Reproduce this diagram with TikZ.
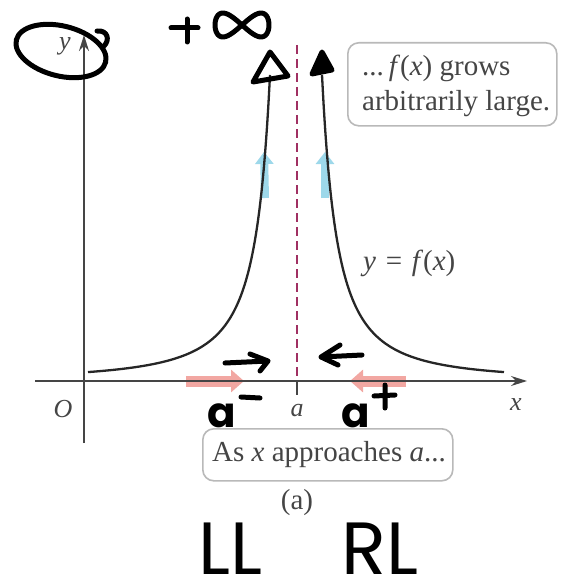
\documentclass[tikz,border=0pt]{standalone}
\usepackage{fontspec}
\setmainfont{Liberation Serif}
\newfontfamily\hand{Poppins}
\usetikzlibrary{arrows.meta,shapes.geometric}
\definecolor{txt}{HTML}{454545}
\definecolor{asym}{HTML}{A03062}
\definecolor{redarr}{HTML}{F2A7A2}
\definecolor{cyanarr}{HTML}{9DD8EA}
\begin{document}
\begin{tikzpicture}[x=1pt,y=-1pt,
  lbl/.style={text=txt,font=\fontsize{26}{30}\selectfont,inner sep=0pt},
  big/.style={text=txt,font=\fontsize{29}{35}\selectfont,inner sep=0pt},
  hwa/.style={font=\hand\bfseries\fontsize{42}{42}\selectfont,inner sep=0pt,anchor=base,text depth=0pt},
  hwl/.style={font=\hand\fontsize{74}{74}\selectfont,inner sep=0pt,anchor=base,text depth=0pt},
  ink/.style={line width=5pt,line cap=round,line join=round,black},
  axisline/.style={draw=txt,line width=1.3pt,-{Stealth[length=16pt,width=10pt]}},
  curve/.style={line width=2.3pt,black!85},
  note/.style={draw=gray!55,line width=1.6pt,rounded corners=11pt,fill=white,inner sep=0pt},
  fatred/.style={redarr,line width=11pt,-{Triangle[length=13pt,width=22pt]}},
  fatcyan/.style={cyanarr,line width=8pt,-{Triangle[length=12pt,width=18pt]}}]
\useasboundingbox (0,0) rectangle (575,583);
% translucent motion arrows (drawn under axis / curves)
\coordinate (r1s) at (186,381); \coordinate (r1e) at (244,381);
\coordinate (r2s) at (406,381); \coordinate (r2e) at (350,381);
\draw[fatred] (r1s) -- (r1e);
\draw[fatred] (r2s) -- (r2e);
\coordinate (c1s) at (265,198); \coordinate (c1e) at (264,152);
\coordinate (c2s) at (325,198); \coordinate (c2e) at (325,152);
\draw[fatcyan] (c1s) -- (c1e);
\draw[fatcyan] (c2s) -- (c2e);
% axes
\coordinate (xs) at (35,381); \coordinate (xe) at (527,381);
\coordinate (ys) at (84,443); \coordinate (ye) at (84,35);
\draw[axisline] (xs) -- (xe);
\draw[axisline] (ys) -- (ye);
% asymptote
\coordinate (at) at (297,45); \coordinate (am) at (297,381); \coordinate (ab) at (297,395);
\draw[asym,line width=1.3pt,dash pattern=on 9pt off 5pt] (at) -- (am);
\draw[txt,line width=1.3pt] (am) -- (ab);
% curves
\draw[curve] plot[domain=26:208,samples=120,smooth] ({296-\x},{381-9*(207/\x)^1.7});
\draw[curve] plot[domain=26:208,samples=120,smooth] ({296+\x},{381-9*(207/\x)^1.7});
% printed labels
\node[lbl] (ylab) at (65,46) {\textit{y}};
\node[lbl] (O) at (63,409) {\textit{O}};
\node[lbl] (xlab) at (516,405) {\textit{x}};
\node[lbl] (alab) at (297,411) {\textit{a}};
\node[big,anchor=west] (fx) at (363,263) {\textit{y}\,\,=\,\,\textit{f}(\textit{x})};
\node[note,minimum width=209pt,minimum height=83pt,anchor=north west] (box1) at (347,42) {};
\node[big,anchor=west,align=left] (box1t) at (362,86) {...\,\textit{f}(\textit{x}) grows\\arbitrarily large.};
\node[note,minimum width=250pt,minimum height=52pt,anchor=north west] (box2) at (202,428) {};
\node[big] (box2t) at (329,455) {As \textit{x} approaches \textit{a}...};
\node[big] (cap) at (297,503) {(a)};
% handwritten annotations
\draw[ink,rotate around={-14:(61,51)}] (61,51) ellipse [x radius=46, y radius=25];
\draw[ink] (97,31) .. controls (108,30) and (110,40) .. (104,46);
\draw[ink] (171,28) -- (198,28) (187,19) -- (187,42);
\draw[ink] plot[domain=0:360,samples=60,smooth cycle] ({242+27*cos(\x)},{25+12*sin(2*\x)});
\draw[ink] (253,82) -- (270,52) -- (288,76) -- cycle;
\draw[ink,fill=black] (312,74) -- (322,52) -- (332,70) -- cycle;
\draw[ink] (225,363) -- (268,361) (250,354) -- (268,361) -- (260,371);
\draw[ink] (362,355) -- (321,357) (340,345) -- (321,357) -- (338,365);
\node[hwa] (aminus) at (222,427) {a};
\draw[ink] (241,397) -- (260,398);
\node[hwa] (aplus) at (356,427) {a};
\draw[ink] (374,396) -- (395,395) (385,385) -- (385,408);
\node[hwl] (LL) at (230,574) {LL};
\node[hwl] (RL) at (380,574) {RL};
\end{tikzpicture}
\end{document}
